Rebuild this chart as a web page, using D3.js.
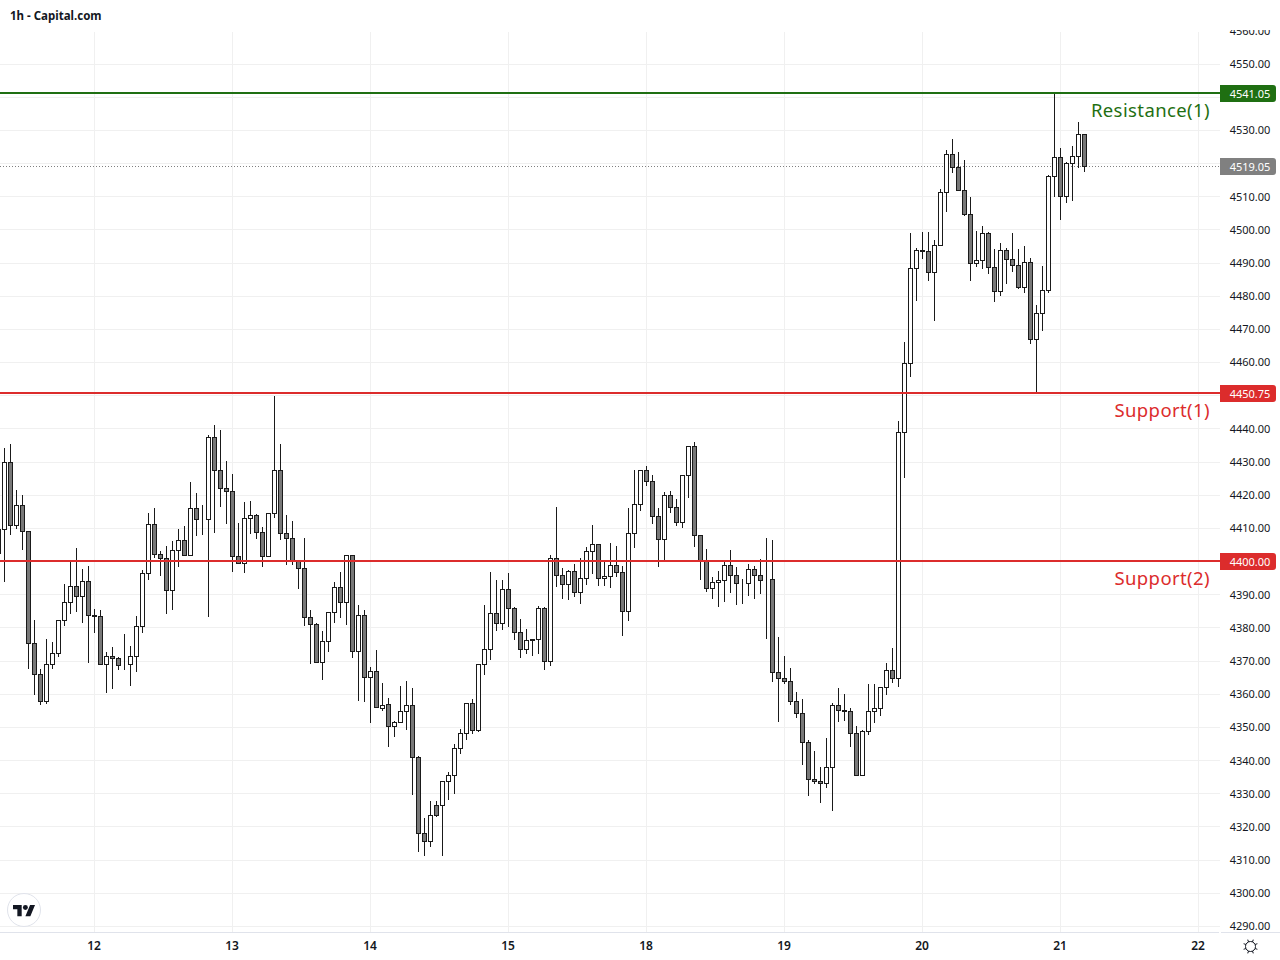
<!DOCTYPE html>
<html>
<head>
<meta charset="utf-8">
<title>1h - Capital.com</title>
<script src="https://cdn.jsdelivr.net/npm/d3@7/dist/d3.min.js"></script>
<style>
  html, body { margin: 0; padding: 0; background: #fff; }
  svg { display: block; font-family: "Noto Sans", Roboto, sans-serif; }
</style>
</head>
<body>
<div id="chart"></div>
<script>
// candles, first one sits just off the left edge
const opens = [
  4402.4, 4409.6, 4429.8, 4410.9, 4416.9, 4409.0, 4375.3, 4365.9, 4357.8, 4368.9,
  4372.3, 4382.2, 4387.6, 4392.5, 4389.4, 4394.0, 4383.7, 4383.4, 4368.9, 4371.4,
  4370.8, 4368.8, 4368.9, 4371.4, 4380.4, 4396.4, 4411.2, 4402.1, 4400.9, 4391.3,
  4403.3, 4406.3, 4401.8, 4416.0, 4412.7, 4412.7, 4437.4, 4427.4, 4422.0, 4421.1,
  4401.5, 4399.4, 4413.0, 4413.9, 4408.7, 4401.5, 4414.5, 4427.4, 4408.4, 4406.9,
  4400.2, 4397.8, 4383.1, 4381.0, 4369.7, 4375.9, 4384.6, 4392.2, 4387.6, 4401.8,
  4372.9, 4383.7, 4365.0, 4366.7, 4355.8, 4356.8, 4350.2, 4351.4, 4354.7, 4356.5,
  4340.8, 4317.9, 4315.5, 4326.6, 4326.6, 4333.6, 4335.4, 4343.5, 4348.3, 4357.1,
  4349.2, 4369.1, 4373.4, 4384.2, 4381.2, 4391.5, 4385.7, 4378.5, 4373.4, 4376.4,
  4376.4, 4385.7, 4370.0, 4400.8, 4395.7, 4393.0, 4396.9, 4390.6, 4394.8, 4402.9,
  4405.0, 4394.8, 4395.4, 4398.7, 4396.6, 4384.8, 4408.6, 4417.1, 4427.3, 4424.0,
  4413.5, 4406.5, 4419.8, 4416.2, 4411.7, 4425.8, 4434.6, 4407.7, 4399.9, 4391.8,
  4393.6, 4394.2, 4398.7, 4395.7, 4393.3, 4393.3, 4397.5, 4395.7, 4394.4, 4394.5,
  4366.4, 4364.6, 4363.7, 4357.7, 4354.1, 4345.3, 4334.2, 4333.6, 4333.0, 4337.8,
  4356.5, 4355.0, 4354.7, 4348.3, 4335.4, 4348.9, 4354.7, 4355.6, 4361.9, 4367.0,
  4364.6, 4439.0, 4459.8, 4488.3, 4493.8, 4493.5, 4487.1, 4495.3, 4511.3, 4522.7,
  4518.8, 4511.9, 4504.6, 4489.9, 4490.8, 4498.9, 4488.6, 4481.4, 4493.8, 4491.1,
  4489.2, 4482.6, 4490.2, 4466.9, 4474.8, 4481.7, 4516.1, 4521.8, 4510.0, 4520.0,
  4522.1, 4528.7
];
const highs = [
  4412.0, 4434.1, 4435.3, 4421.5, 4420.2, 4409.0, 4382.5, 4367.7, 4376.6, 4375.6,
  4382.5, 4393.2, 4400.0, 4404.2, 4397.9, 4398.8, 4385.8, 4385.5, 4372.6, 4374.1,
  4371.1, 4378.3, 4374.4, 4383.7, 4397.3, 4414.5, 4416.0, 4403.3, 4404.8, 4406.3,
  4409.9, 4410.6, 4424.1, 4420.8, 4416.9, 4438.3, 4441.3, 4439.8, 4430.2, 4426.5,
  4411.5, 4417.8, 4418.4, 4414.2, 4410.3, 4414.5, 4449.8, 4435.3, 4413.9, 4412.1,
  4400.2, 4407.2, 4385.5, 4381.6, 4379.2, 4384.9, 4393.7, 4396.7, 4401.8, 4401.8,
  4387.0, 4385.5, 4368.3, 4373.2, 4363.4, 4358.9, 4352.0, 4362.5, 4364.0, 4361.9,
  4341.4, 4322.7, 4327.8, 4327.8, 4333.6, 4336.6, 4345.0, 4349.5, 4357.4, 4358.6,
  4369.1, 4386.9, 4396.9, 4394.5, 4394.5, 4396.6, 4386.3, 4382.7, 4379.7, 4376.7,
  4386.6, 4386.3, 4402.0, 4416.4, 4398.1, 4397.5, 4399.3, 4401.1, 4404.5, 4411.1,
  4405.0, 4400.5, 4405.6, 4404.7, 4398.7, 4416.2, 4427.6, 4427.6, 4428.8, 4426.1,
  4416.2, 4421.0, 4421.3, 4418.9, 4425.8, 4434.9, 4436.1, 4408.0, 4403.8, 4395.4,
  4397.2, 4400.2, 4403.5, 4398.4, 4394.8, 4399.3, 4398.7, 4400.8, 4407.1, 4406.5,
  4377.3, 4371.6, 4367.9, 4360.7, 4358.6, 4346.2, 4342.9, 4338.1, 4346.8, 4357.4,
  4361.9, 4360.1, 4355.9, 4350.5, 4349.2, 4363.1, 4363.1, 4361.9, 4369.4, 4374.0,
  4442.3, 4466.3, 4498.9, 4494.4, 4499.5, 4499.2, 4496.8, 4512.2, 4524.2, 4527.5,
  4523.6, 4521.2, 4510.0, 4499.8, 4501.3, 4499.2, 4494.1, 4495.9, 4494.4, 4498.9,
  4494.1, 4495.0, 4491.4, 4477.2, 4489.2, 4516.4, 4541.05, 4524.8, 4520.6, 4525.4,
  4532.4, 4529.0
];
const lows = [
  4398.0, 4393.9, 4408.0, 4409.8, 4403.5, 4367.6, 4359.8, 4356.8, 4357.1, 4367.6,
  4371.3, 4380.6, 4384.2, 4384.8, 4381.5, 4369.4, 4378.5, 4368.9, 4360.4, 4361.6,
  4367.3, 4367.3, 4362.5, 4366.7, 4378.5, 4394.5, 4401.1, 4395.7, 4384.2, 4385.4,
  4398.4, 4401.8, 4401.8, 4407.7, 4408.0, 4383.3, 4408.6, 4416.5, 4411.4, 4396.9,
  4399.4, 4396.6, 4408.3, 4406.8, 4398.4, 4401.5, 4413.2, 4406.5, 4399.0, 4399.0,
  4391.8, 4380.6, 4369.1, 4369.4, 4364.3, 4372.8, 4381.5, 4383.0, 4380.9, 4371.0,
  4358.0, 4357.7, 4351.4, 4356.0, 4354.9, 4344.0, 4347.0, 4351.4, 4349.1, 4329.6,
  4312.4, 4311.3, 4313.9, 4323.0, 4311.3, 4328.0, 4329.9, 4342.0, 4346.2, 4348.0,
  4348.6, 4365.8, 4370.4, 4379.1, 4379.4, 4380.3, 4376.4, 4371.0, 4372.2, 4371.6,
  4372.2, 4367.3, 4368.5, 4392.4, 4388.6, 4388.3, 4389.3, 4387.2, 4393.0, 4396.3,
  4392.6, 4392.6, 4392.0, 4395.4, 4377.5, 4382.0, 4404.1, 4415.3, 4422.8, 4411.4,
  4398.4, 4400.2, 4414.7, 4410.8, 4410.2, 4419.2, 4404.4, 4394.5, 4390.9, 4388.7,
  4386.3, 4387.8, 4390.6, 4386.9, 4387.1, 4389.6, 4388.7, 4390.3, 4376.6, 4363.6,
  4351.6, 4363.0, 4356.7, 4352.8, 4338.7, 4329.3, 4333.0, 4327.2, 4331.7, 4324.8,
  4351.7, 4352.0, 4344.1, 4335.4, 4335.4, 4347.7, 4351.4, 4353.5, 4359.8, 4363.4,
  4362.2, 4425.1, 4455.5, 4478.6, 4491.1, 4484.6, 4472.4, 4495.0, 4505.5, 4517.0,
  4511.9, 4504.3, 4484.7, 4488.9, 4488.2, 4486.8, 4478.1, 4480.1, 4483.7, 4487.3,
  4482.3, 4481.1, 4465.7, 4450.75, 4469.6, 4481.1, 4510.0, 4503.1, 4508.2, 4508.8,
  4518.5, 4517.3
];
const closes = [
  4409.6, 4429.8, 4410.9, 4416.9, 4409.0, 4375.3, 4365.9, 4357.8, 4368.9, 4372.3,
  4382.2, 4387.6, 4392.5, 4389.4, 4394.0, 4383.7, 4383.3, 4368.9, 4371.4, 4370.8,
  4368.6, 4368.6, 4371.4, 4380.4, 4396.4, 4411.2, 4402.1, 4400.9, 4391.3, 4403.3,
  4406.3, 4401.8, 4416.0, 4412.7, 4412.7, 4437.4, 4427.4, 4422.0, 4421.1, 4401.5,
  4399.4, 4413.0, 4413.9, 4408.7, 4401.5, 4414.5, 4427.4, 4408.4, 4406.9, 4400.2,
  4397.8, 4383.1, 4381.0, 4369.7, 4375.9, 4384.6, 4392.2, 4387.6, 4401.8, 4372.9,
  4383.7, 4365.0, 4366.7, 4356.0, 4356.7, 4350.2, 4351.4, 4354.7, 4356.5, 4340.8,
  4317.9, 4315.5, 4323.3, 4323.3, 4333.6, 4335.4, 4343.5, 4348.3, 4357.1, 4349.2,
  4369.1, 4373.4, 4384.2, 4381.2, 4391.5, 4385.7, 4378.5, 4373.4, 4376.1, 4376.1,
  4385.7, 4370.0, 4400.8, 4395.7, 4393.0, 4396.9, 4390.6, 4394.8, 4402.9, 4405.0,
  4394.8, 4395.4, 4398.7, 4396.6, 4384.8, 4408.6, 4417.1, 4427.3, 4424.0, 4413.5,
  4406.5, 4419.8, 4416.2, 4411.7, 4425.8, 4434.6, 4407.7, 4399.9, 4391.8, 4393.6,
  4394.2, 4398.7, 4395.7, 4393.3, 4393.3, 4397.5, 4395.7, 4394.2, 4394.2, 4366.4,
  4364.6, 4363.7, 4357.7, 4354.1, 4345.3, 4334.2, 4333.6, 4333.0, 4337.8, 4356.5,
  4355.0, 4354.7, 4348.3, 4335.4, 4348.9, 4354.7, 4355.6, 4361.9, 4367.0, 4364.6,
  4439.0, 4459.8, 4488.3, 4493.8, 4493.5, 4487.1, 4495.3, 4511.3, 4522.7, 4518.8,
  4511.9, 4504.6, 4489.9, 4490.8, 4498.9, 4488.6, 4481.4, 4493.8, 4491.1, 4489.2,
  4482.6, 4490.2, 4466.9, 4474.8, 4481.7, 4516.1, 4521.8, 4510.0, 4520.0, 4522.1,
  4528.7, 4519.05
];

// x axis, day labels sit on these candle slots
const dayLabels = ['12', '13', '14', '15', '18', '19', '20', '21', '22'];
const daySlots = [15, 38, 61, 84, 107, 130, 153, 176, 199];

// y axis
const priceTicks = d3.range(4290, 4561, 10);

// horizontal levels
const levelNames = ['Resistance(1)', 'Support(1)', 'Support(2)'];
const levelPrices = [4541.05, 4450.75, 4400.00];
const levelColors = ['#1f6f12', '#dc2c2c', '#dc2c2c'];
const lastPrice = 4519.05;

const width = 1280;
const height = 960;
const paneRight = 1220;
const paneTop = 32;
const paneBottom = 932;

const svg = d3.select('#chart')
  .append('svg')
  .attr('width', width)
  .attr('height', height);

// first candle has slot -1
const x = d3.scaleLinear().domain([-1, 199]).range([-1.5, 1198.5]);
const y = d3.scaleLinear().domain([4290, 4550]).range([926.4, 64]);
const yPx = p => Math.round(y(p) - 0.5) + 0.5;

svg.append('clipPath').attr('id', 'pane')
  .append('rect').attr('x', 0).attr('y', paneTop).attr('width', paneRight).attr('height', paneBottom - paneTop);
svg.append('clipPath').attr('id', 'scale')
  .append('rect').attr('x', paneRight).attr('y', 30).attr('width', width - paneRight).attr('height', paneBottom - 30);

const pane = svg.append('g').attr('clip-path', 'url(#pane)');

// Grid
pane.append('g').selectAll('line')
  .data(priceTicks)
  .join('line')
  .attr('x1', 0)
  .attr('x2', paneRight)
  .attr('y1', d => yPx(d))
  .attr('y2', d => yPx(d))
  .attr('stroke', '#f0f0f0');

pane.append('g').selectAll('line')
  .data(daySlots)
  .join('line')
  .attr('x1', d => x(d))
  .attr('x2', d => x(d))
  .attr('y1', paneTop)
  .attr('y2', paneBottom)
  .attr('stroke', '#f0f0f0');

// Last price dotted line
pane.append('line')
  .attr('x1', 0)
  .attr('x2', paneRight)
  .attr('y1', yPx(lastPrice))
  .attr('y2', yPx(lastPrice))
  .attr('stroke', '#808080')
  .attr('stroke-dasharray', '1 2');

// Candles
const candles = opens.map((o, i) => ({ i: i - 1, o, h: highs[i], l: lows[i], c: closes[i] }));

const candle = pane.append('g').selectAll('g')
  .data(candles)
  .join('g');

candle.append('line')
  .attr('x1', d => x(d.i))
  .attr('x2', d => x(d.i))
  .attr('y1', d => Math.round(y(d.h)))
  .attr('y2', d => Math.round(y(d.l)))
  .attr('stroke', '#1a1a1a');

candle.append('rect')
  .attr('x', d => x(d.i) - 2)
  .attr('width', 4)
  .attr('y', d => yPx(Math.max(d.o, d.c)))
  .attr('height', d => yPx(Math.min(d.o, d.c)) - yPx(Math.max(d.o, d.c)))
  .attr('fill', d => d.c >= d.o ? '#ffffff' : '#787878')
  .attr('stroke', '#1a1a1a');

// Levels
pane.append('g').selectAll('line')
  .data(levelPrices)
  .join('line')
  .attr('x1', 0)
  .attr('x2', paneRight)
  .attr('y1', d => Math.floor(y(d)))
  .attr('y2', d => Math.floor(y(d)))
  .attr('stroke', (d, i) => levelColors[i])
  .attr('stroke-width', 2);

svg.append('g').selectAll('text')
  .data(levelNames)
  .join('text')
  .attr('x', 1210)
  .attr('y', (d, i) => Math.floor(y(levelPrices[i])) + 17)
  .attr('dy', '0.36em')
  .attr('text-anchor', 'end')
  .attr('fill', (d, i) => levelColors[i])
  .style('font-size', '18.5px')
  .style('letter-spacing', '0.4px')
  .text(d => d);

// Axes
const taken = levelPrices.concat(lastPrice);
const shownTicks = priceTicks.filter(d => taken.every(p => Math.abs(y(p) - y(d)) > 14));

svg.append('g').attr('clip-path', 'url(#scale)')
  .selectAll('text')
  .data(shownTicks)
  .join('text')
  .attr('x', 1250)
  .attr('y', d => y(d))
  .attr('dy', '0.36em')
  .attr('text-anchor', 'middle')
  .attr('fill', '#131722')
  .style('font-size', '11px')
  .text(d => d.toFixed(2));

// Price tags
const tagPrices = levelPrices.concat(lastPrice);
const tagColors = levelColors.concat('#808080');

const tag = svg.append('g').selectAll('g')
  .data(tagPrices)
  .join('g')
  .attr('transform', d => `translate(${paneRight},${Math.floor(y(d)) + 0.5})`);

tag.append('path')
  .attr('d', 'M0,-8.5H53a3,3 0 0 1 3,3V5.5a3,3 0 0 1 -3,3H0Z')
  .attr('fill', (d, i) => tagColors[i]);

tag.append('text')
  .attr('x', 30)
  .attr('y', 0.5)
  .attr('dy', '0.36em')
  .attr('text-anchor', 'middle')
  .attr('fill', '#ffffff')
  .style('font-size', '11px')
  .text(d => d.toFixed(2));

// Bottom axis
svg.append('line')
  .attr('x1', 0).attr('x2', paneRight - 1)
  .attr('y1', paneBottom + 0.5).attr('y2', paneBottom + 0.5)
  .attr('stroke', '#e0e3eb');
svg.append('line')
  .attr('x1', paneRight + 1).attr('x2', width)
  .attr('y1', paneBottom + 0.5).attr('y2', paneBottom + 0.5)
  .attr('stroke', '#e0e3eb');

svg.append('g').selectAll('text')
  .data(dayLabels)
  .join('text')
  .attr('x', (d, i) => x(daySlots[i]) - 0.5)
  .attr('y', 946)
  .attr('dy', '0.36em')
  .attr('text-anchor', 'middle')
  .attr('fill', '#131722')
  .style('font-size', '12px')
  .style('font-weight', 600)
  .text(d => d);

// Title
svg.append('text')
  .attr('x', 10)
  .attr('y', 19.5)
  .attr('fill', '#131722')
  .style('font-size', '11.5px')
  .style('font-weight', 700)
  .text('1h - Capital.com');

// Logo
svg.append('circle')
  .attr('cx', 24).attr('cy', 910).attr('r', 16.5)
  .attr('fill', '#fff')
  .attr('stroke', '#e0e3eb');
const logo = svg.append('g').attr('transform', 'translate(13,902.5) scale(0.62)').attr('fill', '#131722');
logo.append('path').attr('d', 'M14 22H7V11H0V4h14v18zM28 22h-8l7.5-18h8L28 22z');
logo.append('circle').attr('cx', 20).attr('cy', 8).attr('r', 4);

// Settings icon
const gear = svg.append('g').attr('transform', 'translate(1250.5,946.5)').attr('stroke', '#131722').attr('fill', 'none');
gear.append('circle').attr('r', 5);
gear.selectAll('line')
  .data(d3.range(8))
  .join('line')
  .attr('y1', -5)
  .attr('y2', -7.5)
  .attr('transform', d => `rotate(${d * 45 + 22.5})`);
</script>
</body>
</html>
